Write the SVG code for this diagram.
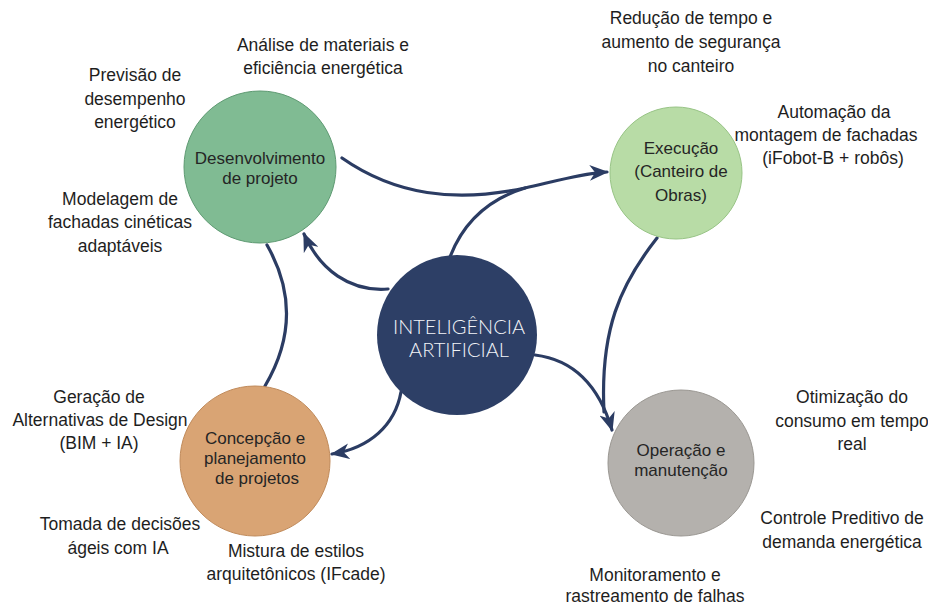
<svg xmlns="http://www.w3.org/2000/svg" width="928" height="608" viewBox="0 0 928 608">
<defs>
<style>
.lbl{font-family:"Liberation Sans",Arial,sans-serif;font-size:17.5px;fill:#1e1e1e;text-anchor:middle}
.ntx{font-family:"Liberation Sans",Arial,sans-serif;font-size:17px;fill:#252525;text-anchor:middle}
.ia{font-family:Lato,"Open Sans",sans-serif;font-weight:300;font-size:20px;fill:#f2f4f8;text-anchor:middle}
.con{fill:none;stroke:#2b3c63;stroke-width:3.2;stroke-linecap:round}
.circ{stroke-width:1}
</style>
<marker id="ah" viewBox="0 0 12 10" refX="11" refY="5" markerWidth="19" markerHeight="16" markerUnits="userSpaceOnUse" orient="auto">
<path d="M0,0 L12,5 L0,10 L3.5,5 z" fill="#2b3c63"/>
</marker>
</defs>
<rect width="928" height="608" fill="#ffffff"/>

<g id="connectors">
<path class="con" d="M342,158 C395,195 455,203 525,188 C560,180 585,173 607,172" marker-end="url(#ah)"/>
<path class="con" d="M450,257 Q470,205 525,188"/>
<path class="con" d="M388,289 C350,292 320,270 304,234" marker-end="url(#ah)"/>
<path class="con" d="M267,245 Q307,315 265,386"/>
<path class="con" d="M401,392 C395,425 370,448 332,454" marker-end="url(#ah)"/>
<path class="con" d="M657,238 C620,285 600,330 604,412"/>
<path class="con" d="M535,355 Q592,362 612,430" marker-end="url(#ah)"/>
</g>

<g id="node-desenvolvimento">
<circle class="circ" cx="260" cy="167" r="76" fill="#80bb93" stroke="#5e9a72"/>
<text class="ntx" x="260" y="164">Desenvolvimento</text>
<text class="ntx" x="260" y="184">de projeto</text>
</g>

<g id="node-execucao">
<circle class="circ" cx="676" cy="173" r="66" fill="#b8dca6" stroke="#98c486"/>
<text class="ntx" x="681" y="154">Execução</text>
<text class="ntx" x="681" y="177">(Canteiro de</text>
<text class="ntx" x="681" y="201">Obras)</text>
</g>

<g id="node-ia">
<circle cx="457" cy="335" r="80" fill="#2d3f66"/>
<text class="ia" x="459" y="334">INTELIGÊNCIA</text>
<text class="ia" x="459" y="357">ARTIFICIAL</text>
</g>

<g id="node-concepcao">
<circle class="circ" cx="255" cy="461" r="75" fill="#d9a474" stroke="#c08a5a"/>
<text class="ntx" x="255" y="444">Concepção e</text>
<text class="ntx" x="255" y="464">planejamento</text>
<text class="ntx" x="257" y="484">de projetos</text>
</g>

<g id="node-operacao">
<circle class="circ" cx="681" cy="463" r="73" fill="#b4b1ad" stroke="#9a9792"/>
<text class="ntx" x="681" y="456">Operação e</text>
<text class="ntx" x="681" y="476">manutenção</text>
</g>

<g id="labels">
<text class="lbl" x="323" y="51">Análise de materiais e</text>
<text class="lbl" x="323" y="74">eficiência energética</text>
<text class="lbl" x="135" y="81">Previsão de</text>
<text class="lbl" x="135" y="105">desempenho</text>
<text class="lbl" x="135" y="128">energético</text>
<text class="lbl" x="691" y="24">Redução de tempo e</text>
<text class="lbl" x="691" y="48">aumento de segurança</text>
<text class="lbl" x="691" y="72">no canteiro</text>
<text class="lbl" x="834" y="118">Automação da</text>
<text class="lbl" x="826" y="141">montagem de fachadas</text>
<text class="lbl" x="833" y="164">(iFobot-B + robôs)</text>
<text class="lbl" x="120" y="205">Modelagem de</text>
<text class="lbl" x="120" y="228">fachadas cinéticas</text>
<text class="lbl" x="120" y="252">adaptáveis</text>
<text class="lbl" x="99" y="403">Geração de</text>
<text class="lbl" x="100" y="426">Alternativas de Design</text>
<text class="lbl" x="99" y="449">(BIM + IA)</text>
<text class="lbl" x="120" y="530">Tomada de decisões</text>
<text class="lbl" x="118" y="554">ágeis com IA</text>
<text class="lbl" x="296" y="557">Mistura de estilos</text>
<text class="lbl" x="296" y="580">arquitetônicos (IFcade)</text>
<text class="lbl" x="852" y="403">Otimização do</text>
<text class="lbl" x="852" y="427">consumo em tempo</text>
<text class="lbl" x="852" y="450">real</text>
<text class="lbl" x="842" y="524">Controle Preditivo de</text>
<text class="lbl" x="842" y="548">demanda energética</text>
<text class="lbl" x="655" y="581">Monitoramento e</text>
<text class="lbl" x="655" y="602">rastreamento de falhas</text>
</g>
</svg>
